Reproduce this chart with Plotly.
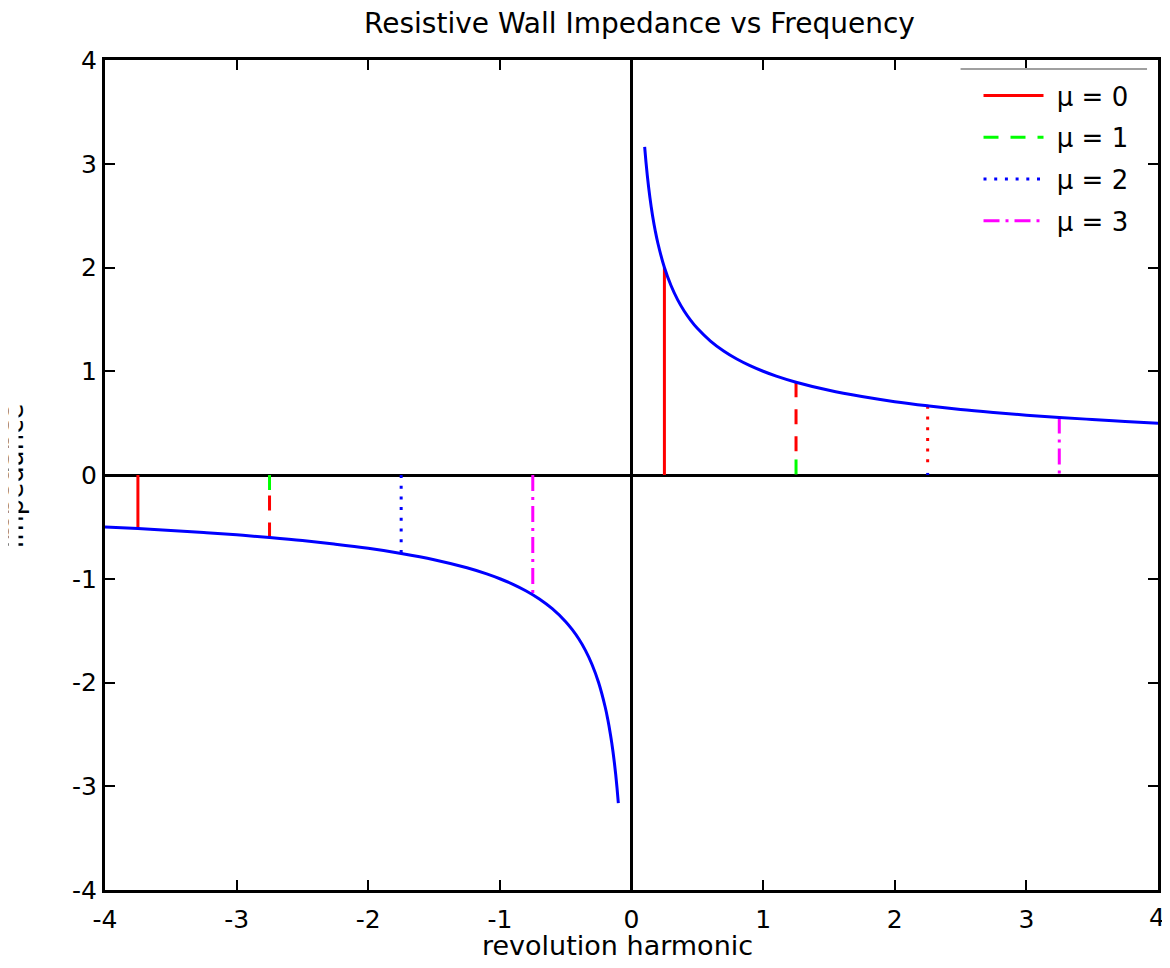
import plotly.graph_objects as go

# ---- data ----
# blue impedance curve, positive frequencies
curve_x_pos = [0.10, 0.11, 0.12, 0.13, 0.14, 0.15, 0.16, 0.18, 0.20, 0.25, 0.30, 0.35, 0.40,
               0.45, 0.50, 0.60, 0.70, 0.80, 0.90, 1.00, 1.10, 1.25, 1.50, 1.75, 2.00,
               2.25, 2.50, 2.75, 3.00, 3.25, 3.50, 3.75, 4.00]
curve_y_pos = [3.162, 3.015, 2.887, 2.774, 2.673, 2.582, 2.500, 2.357, 2.236, 2.000, 1.826,
               1.690, 1.581, 1.491, 1.414, 1.291, 1.195, 1.118, 1.054, 1.000, 0.953, 0.894,
               0.816, 0.756, 0.707, 0.667, 0.632, 0.603, 0.577, 0.555, 0.535, 0.516, 0.500]
# blue impedance curve, negative frequencies
curve_x_neg = [-4.00, -3.75, -3.50, -3.25, -3.00, -2.75, -2.50, -2.25, -2.00, -1.75, -1.50,
               -1.25, -1.10, -1.00, -0.90, -0.80, -0.70, -0.60, -0.50, -0.45, -0.40, -0.35,
               -0.30, -0.25, -0.20, -0.18, -0.16, -0.15, -0.14, -0.13, -0.12, -0.11, -0.10]
curve_y_neg = [-0.500, -0.516, -0.535, -0.555, -0.577, -0.603, -0.632, -0.667, -0.707, -0.756,
               -0.816, -0.894, -0.953, -1.000, -1.054, -1.118, -1.195, -1.291, -1.414, -1.491,
               -1.581, -1.690, -1.826, -2.000, -2.236, -2.357, -2.500, -2.582, -2.673, -2.774,
               -2.887, -3.015, -3.162]

# stems per mode mu (positive side, negative side)
mu_labels = ["\u00a0μ = 0", "\u00a0μ = 1", "\u00a0μ = 2", "\u00a0μ = 3"]
stem_x_pos = [0.25, 1.25, 2.25, 3.25]
stem_top_pos = [2.000, 0.894, 0.667, 0.555]
stem_x_neg = [-3.75, -2.75, -1.75, -0.75]
stem_top_neg = [-0.516, -0.603, -0.756, -1.155]
# visible extent of the coloured (legend-style) stems; the rest is overdrawn in red
mode_end_pos = [2.000, 0.15, 0.02, 0.555]
mode_end_neg = [-0.516, -0.15, -0.756, -1.155]
# red overdrawn parts: (x, from, to)
red_dash_x = [1.25, -2.75]
red_dash_from = [0.894, -0.603]
red_dash_to = [0.17, -0.18]
red_dot_x = [2.25]
red_dot_from = [0.667]
red_dot_to = [0.06]

tick_vals = [-4, -3, -2, -1, 0, 1, 2, 3, 4]
tick_text = ["-4", "-3", "-2", "-1", "0", "1", "2", "3", "4"]

# ---- styles ----
FONT = "DejaVu Sans"
mode_colors = ["#ff0000", "#00ff00", "#0000ff", "#ff00ff"]
DOT = "3px,7.7px"
mode_dash = ["solid", "15px,12px", DOT, "16px,6px,3px,6px"]
LW = 3

fig = go.Figure()

for i in range(4):
    xs = [stem_x_pos[i], stem_x_pos[i], None, stem_x_neg[i], stem_x_neg[i]]
    ys = [mode_end_pos[i], 0, None, 0, mode_end_neg[i]]
    fig.add_trace(go.Scatter(
        x=xs, y=ys, mode="lines", name=mu_labels[i], legendgroup=str(i),
        line=dict(color=mode_colors[i], width=LW, dash=mode_dash[i]),
        connectgaps=False, hoverinfo="skip"))

xs, ys = [], []
for x, a, b in zip(red_dash_x, red_dash_from, red_dash_to):
    xs += [x, x, None]
    ys += [a, b, None]
fig.add_trace(go.Scatter(x=xs, y=ys, mode="lines", showlegend=False,
                         line=dict(color="#ff0000", width=LW, dash="15px,12px"),
                         hoverinfo="skip"))
xs, ys = [], []
for x, a, b in zip(red_dot_x, red_dot_from, red_dot_to):
    xs += [x, x, None]
    ys += [a, b, None]
fig.add_trace(go.Scatter(x=xs, y=ys, mode="lines", showlegend=False,
                         line=dict(color="#ff0000", width=LW, dash=DOT),
                         hoverinfo="skip"))

fig.add_trace(go.Scatter(x=curve_x_pos, y=curve_y_pos, mode="lines", showlegend=False,
                         line=dict(color="#0000ff", width=LW, shape="spline")))
fig.add_trace(go.Scatter(x=curve_x_neg, y=curve_y_neg, mode="lines", showlegend=False,
                         line=dict(color="#0000ff", width=LW, shape="spline")))

# The page body keeps its default 8px margin, so the figure is sized to fill the
# 1170x968 window exactly and all positions below are given in window pixels.
OFF = 8
W, H = 1170 - 2 * OFF, 968 - 2 * OFF
PL, PR, PT, PB = 105, 1161, 60, 890          # plot frame in window pixels
L, R, T, B = PL - OFF, W - (PR - OFF), PT - OFF, H - (PB - OFF)
pw, ph = W - L - R, H - T - B

def px_x(p):
    return (p - OFF - L) / pw

def px_y(p):
    return (H - B - (p - OFF)) / ph

axis_common = dict(
    range=[-4, 4], tickvals=tick_vals, ticktext=tick_text,
    showgrid=False, zeroline=True, zerolinecolor="black", zerolinewidth=3,
    showline=True, linecolor="black", linewidth=3, mirror="ticks",
    ticks="inside", ticklen=10, tickwidth=2, tickcolor="black",
    tickfont=dict(family=FONT, size=25, color="black"),
)

annotations = [
    dict(text="revolution harmonic", xref="paper", yref="paper",
         x=px_x(619), y=px_y(945), xanchor="center", yanchor="middle",
         showarrow=False, font=dict(family=FONT, size=27, color="black")),
    dict(text="Impedance", xref="paper", yref="paper",
         x=px_x(31), y=px_y(476), xanchor="right", yanchor="middle",
         textangle=-90, showarrow=False,
         font=dict(family=FONT, size=26, color="black")),
    # the left edge of the original picture is cropped
    dict(text="\u00a0", xref="paper", yref="paper",
         x=px_x(OFF), y=px_y(476), xanchor="left", yanchor="middle",
         width=17 - OFF, height=260, bgcolor="white", borderpad=0,
         showarrow=False),
    # last x tick label sits on the window edge (plotly hides it as an axis label)
    dict(text=tick_text[-1], xref="x", yref="paper",
         x=tick_vals[-1], y=px_y(917), xanchor="center", yanchor="middle",
         xshift=-1, showarrow=False,
         font=dict(family=FONT, size=25, color="black")),
]

fig.update_layout(
    width=W, height=H,
    margin=dict(l=L, r=R, t=T, b=B),
    paper_bgcolor="white", plot_bgcolor="white",
    xaxis=dict(**axis_common, ticklabelstandoff=5),
    yaxis=dict(**axis_common),
    title=dict(text="Resistive Wall Impedance vs Frequency",
               font=dict(family=FONT, size=28, color="black"),
               xref="paper", x=px_x(641), xanchor="center",
               yref="container", y=1 - (23 - OFF) / H, yanchor="middle"),
    legend=dict(x=px_x(981), xanchor="left", y=px_y(72), yanchor="top",
                font=dict(family=FONT, size=26, color="black"),
                bgcolor="rgba(0,0,0,0)", borderwidth=0,
                itemwidth=60, tracegroupgap=5),
    showlegend=True,
    annotations=annotations,
    shapes=[
        dict(type="line", xref="paper", yref="paper",
             x0=px_x(963), x1=px_x(1150), y0=px_y(69), y1=px_y(69),
             line=dict(color="#a0a0a0", width=2)),
    ],
)

fig.write_html("out.html", config={"displayModeBar": False})
